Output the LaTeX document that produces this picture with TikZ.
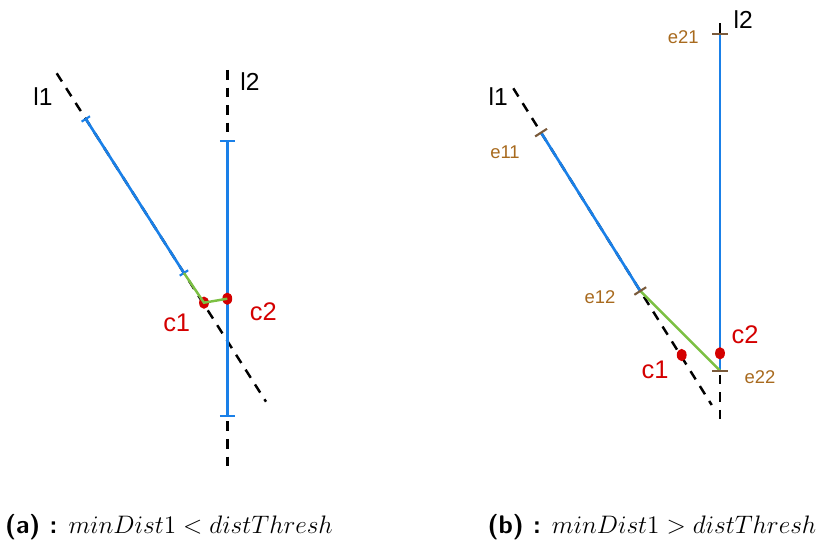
\documentclass[tikz,border=0pt]{standalone}
\usepackage{fontspec}
\newfontfamily\lblfont{Liberation Sans}
\usetikzlibrary{positioning,calc,shapes.geometric}

\definecolor{segblue}{HTML}{1A80E8}
\definecolor{distgreen}{HTML}{7CC043}
\definecolor{ptred}{HTML}{D40000}
\definecolor{tickbrown}{HTML}{7A5A3A}
\definecolor{endbrown}{HTML}{A86A1E}

\begin{document}
\begin{tikzpicture}[
  x=0.02cm, y=-0.02cm,
  font=\lblfont,
  infline/.style={draw=black, line width=1.4pt, dash pattern=on 5.5pt off 4.5pt},
  segment/.style={draw=segblue, line width=1.5pt},
  distline/.style={draw=distgreen, line width=1.4pt},
  tickmark/.style={line width=1.2pt},
  closest/.style={ellipse, fill=ptred, inner sep=0pt, minimum width=5.6pt, minimum height=7pt},
  linelabel/.style={font=\lblfont\fontsize{14}{14}\selectfont},
  ptlabel/.style={text=ptred, font=\lblfont\fontsize{14.5}{14.5}\selectfont},
  endlabel/.style={text=endbrown, font=\lblfont\fontsize{10.5}{10.5}\selectfont},
  caption/.style={font=\fontsize{14.5}{14.5}\selectfont}
]
\useasboundingbox (0,0) rectangle (817,550);

% (a) segments close together
\coordinate (aL1top) at (56.7,73.3);
\coordinate (aL1bot) at (266,401.7);
\coordinate (aL2top) at (227.3,70);
\coordinate (aL2bot) at (227.3,467);
\coordinate (ae11) at ($(aL1top)!0.139!(aL1bot)$);
\coordinate (ae12) at ($(aL1top)!0.608!(aL1bot)$);
\coordinate (ae21) at (227.3,141);
\coordinate (ae22) at (227.3,415.7);

\draw[infline] (aL1top) -- (aL1bot);
\draw[infline] (aL2top) -- (aL2bot);
\draw[segment] (ae11) -- (ae12);
\draw[segment] (ae21) -- (ae22);
\draw[tickmark, segblue] (ae11) ++(-4.2,2.7) -- ++(8.4,-5.4);
\draw[tickmark, segblue] (ae12) ++(-4.2,2.7) -- ++(8.4,-5.4);
\draw[tickmark, segblue] (ae21) ++(-7.5,0) -- ++(15,0);
\draw[tickmark, segblue] (ae22) ++(-7.5,0) -- ++(15,0);

\node[closest] (ac1) at (204,302.7) {};
\node[closest] (ac2) at (227.3,298.7) {};
\draw[distline] (ae12) -- (ac1.center) -- (ac2.center);

\node[linelabel] (al1) at (43,97) {l1};
\node[linelabel] (al2) at (250,81.7) {l2};
\node[ptlabel] (ac1lbl) at (176.7,323.3) {c1};
\node[ptlabel] (ac2lbl) at (263.3,311.7) {c2};

% (b) segments far apart
\coordinate (bL1top) at (513.3,88.3);
\coordinate (bL1bot) at (711.7,405);
\coordinate (bL2top) at (720,23.3);
\coordinate (bL2bot) at (720,420);
\coordinate (be11) at ($(bL1top)!0.140!(bL1bot)$);
\coordinate (be12) at ($(bL1top)!0.640!(bL1bot)$);
\coordinate (be21) at (720,34.3);
\coordinate (be22) at (720,370.7);

\draw[infline] (bL1top) -- (bL1bot);
\draw[infline] (bL2top) -- (bL2bot);
\draw[segment] (be11) -- (be12);
\draw[segment] (be21) -- (be22);
\draw[distline] (be12) -- (be22);
\draw[tickmark, tickbrown] (be11) ++(-5.9,3.8) -- ++(11.8,-7.6);
\draw[tickmark, tickbrown] (be12) ++(-5.9,3.8) -- ++(11.8,-7.6);
\draw[tickmark, tickbrown] (be21) ++(-8,0) -- ++(16,0);
\draw[tickmark, tickbrown] (be22) ++(-8,0) -- ++(16,0);

\node[closest] (bc1) at (681.7,355) {};
\node[closest] (bc2) at (720,353.3) {};

\node[linelabel] (bl1) at (498.3,96.7) {l1};
\node[linelabel] (bl2) at (743.3,19.3) {l2};
\node[endlabel] (be11lbl) at (505,152.7) {e11};
\node[endlabel] (be12lbl) at (600,297.3) {e12};
\node[endlabel] (be21lbl) at (683.3,37.3) {e21};
\node[endlabel] (be22lbl) at (760,376.7) {e22};
\node[ptlabel] (bc1lbl) at (655,370) {c1};
\node[ptlabel] (bc2lbl) at (745,335) {c2};

% captions
\node[caption] (capa) at (169,527) {\textsf{\bfseries (a) :} $minDist1<distThresh$};
\node[caption] (capb) at (652,527) {\textsf{\bfseries (b) :} $minDist1>distThresh$};
\end{tikzpicture}
\end{document}
